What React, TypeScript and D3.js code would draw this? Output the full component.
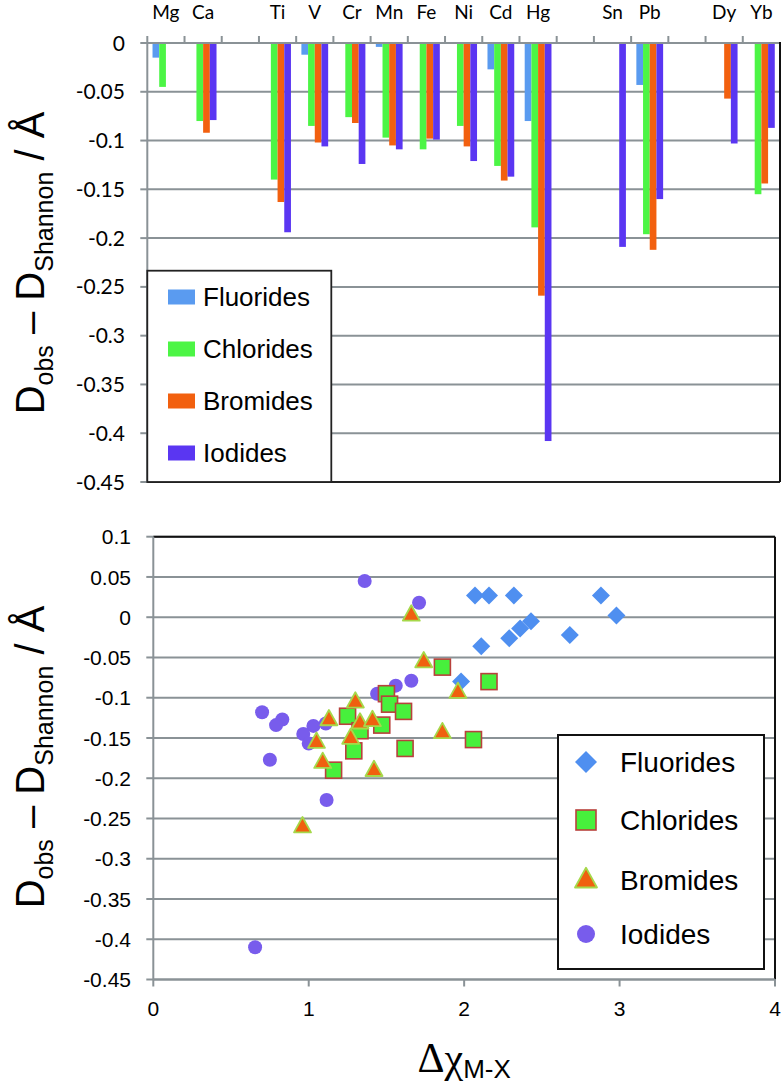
import React from "react";
import * as d3 from "d3";

// ---------- Top bar chart data ----------
const categories = ["Mg", "Ca", "", "Ti", "V", "Cr", "Mn", "Fe", "Ni", "Cd", "Hg", "", "Sn", "Pb", "", "Dy", "Yb"];
const seriesNames = ["Fluorides", "Chlorides", "Bromides", "Iodides"];
const fluorideBars = [-0.015, null, null, null, -0.012, null, -0.004, null, null, -0.027, -0.080, null, null, -0.043, null, null, null];
const chlorideBars = [-0.045, -0.080, null, -0.140, -0.085, -0.076, -0.097, -0.109, -0.085, -0.126, -0.189, null, null, -0.196, null, null, -0.155];
const bromideBars = [null, -0.092, null, -0.163, -0.102, -0.082, -0.105, -0.098, -0.106, -0.141, -0.259, null, null, -0.212, null, -0.057, -0.144];
const iodideBars = [null, -0.079, null, -0.194, -0.106, -0.124, -0.109, -0.099, -0.121, -0.137, -0.408, null, -0.209, -0.160, null, -0.103, -0.087];
const barYTicks = [0, -0.05, -0.1, -0.15, -0.2, -0.25, -0.3, -0.35, -0.4, -0.45];

// ---------- Bottom scatter data ----------
const scatterXTicks = [0, 1, 2, 3, 4];
const scatterYTicks = [0.1, 0.05, 0, -0.05, -0.1, -0.15, -0.2, -0.25, -0.3, -0.35, -0.4, -0.45];
const fluoridePts: [number, number][] = [
  [2.07, 0.027], [2.16, 0.027], [2.32, 0.027], [2.88, 0.027], [2.98, 0.002],
  [2.43, -0.005], [2.36, -0.014], [2.29, -0.026], [2.11, -0.036], [2.68, -0.022], [1.98, -0.080],
];
const chloridePts: [number, number][] = [
  [1.86, -0.062], [2.16, -0.080], [1.50, -0.095], [1.52, -0.108], [1.61, -0.117], [1.25, -0.123],
  [1.47, -0.134], [1.33, -0.141], [1.29, -0.166], [1.62, -0.163], [2.06, -0.152], [1.16, -0.190],
];
const bromidePts: [number, number][] = [
  [1.66, 0.003], [1.74, -0.055], [1.96, -0.093], [1.30, -0.105], [1.13, -0.127], [1.33, -0.131],
  [1.41, -0.128], [1.27, -0.150], [1.05, -0.155], [1.86, -0.143], [1.09, -0.180], [1.42, -0.190], [0.96, -0.260],
];
const iodidePts: [number, number][] = [
  [1.36, 0.045], [1.71, 0.018], [1.66, -0.079], [1.56, -0.085], [1.44, -0.095], [0.70, -0.118],
  [0.83, -0.127], [0.79, -0.134], [1.03, -0.135], [1.11, -0.132], [0.965, -0.145], [1.0, -0.157],
  [0.75, -0.177], [1.115, -0.227], [0.655, -0.410],
];

const barColors = ["#5a9bf0", "#4cf545", "#f2600f", "#5a36f2"];
const GRID = "#8a9296";
const SANS = "'Liberation Sans', Arial, sans-serif";
const CAL = "Lato, 'Liberation Sans', sans-serif";

const fmt = (v: number) => String(+v.toFixed(2));

function YTitle({ x, y }: { x: number; y: number }) {
  return (
    <text transform={`translate(${x},${y}) rotate(-90)`} textAnchor="middle" fontFamily={SANS} fontSize={40} fill="#000">
      D<tspan dy={9} fontSize={25}>obs</tspan>
      <tspan dy={-9}> – D</tspan>
      <tspan dy={9} fontSize={25}>Shannon</tspan>
      <tspan dy={-9}> / Å</tspan>
    </text>
  );
}

function Diamond({ x, y, r }: { x: number; y: number; r: number }) {
  return <path d={`M${x},${y - r}L${x + r},${y}L${x},${y + r}L${x - r},${y}Z`} fill="#4f8ff0" />;
}
function Square({ x, y, s }: { x: number; y: number; s: number }) {
  return <rect x={x - s / 2} y={y - s / 2} width={s} height={s} fill="#47f03c" stroke="#b8413c" strokeWidth={1.6} />;
}
function Tri({ x, y, s }: { x: number; y: number; s: number }) {
  const h = s * 0.9;
  return (
    <path d={`M${x},${y - h * 0.62}L${x + s / 2},${y + h * 0.38}L${x - s / 2},${y + h * 0.38}Z`}
      fill="#f0600f" stroke="#a6d84a" strokeWidth={1.8} strokeLinejoin="round" />
  );
}
function Dot({ x, y, r }: { x: number; y: number; r: number }) {
  return <circle cx={x} cy={y} r={r} fill="#785cec" />;
}

export default function App() {
  // top chart scales
  const tLeft = 147.3, tRight = 780, tTop = 43, tBottom = 482;
  const x0 = d3.scaleBand<string>().domain(categories.map((_, i) => String(i))).range([tLeft, tRight]).paddingInner(0).paddingOuter(0);
  const x1 = d3.scaleBand<string>().domain(seriesNames).range([0, x0.bandwidth()]).paddingInner(0).paddingOuter(0.78);
  const yb = d3.scaleLinear().domain([0, -0.45]).range([tTop, tBottom]);
  const barSeries = [fluorideBars, chlorideBars, bromideBars, iodideBars];

  // bottom chart scales
  const xs = d3.scaleLinear().domain([0, 4]).range([153.3, 775]);
  const ys = d3.scaleLinear().domain([-0.45, 0.1]).range([979.5, 536.7]);

  const boundaries = d3.range(categories.length + 1).map((i) => tLeft + i * x0.step());
  const legendY = [297, 349, 401, 453];

  return (
    <svg width={784} height={1083} style={{ position: "absolute", left: 0, top: 0, background: "#fff" }}>
      <rect width={784} height={1083} fill="#fff" />
      {/* ===== TOP BAR CHART ===== */}
      {barYTicks.slice(1, -1).map((v) => (
        <line key={"g" + v} x1={tLeft} x2={tRight} y1={yb(v)} y2={yb(v)} stroke={GRID} strokeWidth={2} />
      ))}
      <line x1={tLeft} x2={tRight} y1={yb(-0.45)} y2={yb(-0.45)} stroke="#222" strokeWidth={1.8} />
      {barSeries.map((vals, si) =>
        vals.map((v, ci) =>
          v == null ? null : (
            <rect key={si + "-" + ci} x={(x0(String(ci)) as number) + (x1(seriesNames[si]) as number)} y={yb(0)}
              width={x1.bandwidth()} height={yb(v) - yb(0)} fill={barColors[si]} />
          )
        )
      )}
      {/* y axis */}
      <line x1={tLeft} x2={tLeft} y1={tTop} y2={tBottom} stroke={GRID} strokeWidth={2} />
      {barYTicks.map((v) => (
        <g key={"t" + v}>
          <line x1={tLeft - 7} x2={tLeft} y1={yb(v)} y2={yb(v)} stroke={GRID} strokeWidth={2} />
          <text x={125} y={yb(v)} dy="0.36em" textAnchor="end" fontFamily={CAL} fontSize={21} fill="#000">{fmt(v)}</text>
        </g>
      ))}
      {/* top category axis */}
      <line x1={tLeft} x2={tRight} y1={tTop} y2={tTop} stroke={GRID} strokeWidth={2} />
      {boundaries.slice(0, -1).map((bx, i) => (
        <line key={"ct" + i} x1={bx} x2={bx} y1={tTop - 7} y2={tTop} stroke={GRID} strokeWidth={2} />
      ))}
      {categories.map((c, i) => (
        <text key={"cl" + i} x={(x0(String(i)) as number) + x0.bandwidth() / 2} y={19} textAnchor="middle" fontFamily={CAL} fontSize={19} fill="#000">{c}</text>
      ))}
      <line x1={tRight} x2={tRight} y1={tTop - 1} y2={tBottom} stroke="#111" strokeWidth={2} />
      {/* top legend */}
      <rect x={147.3} y={270.7} width={184} height={tBottom - 270.7} fill="#fff" stroke="#222" strokeWidth={1.8} />
      {seriesNames.map((s, i) => (
        <g key={"lg" + s}>
          <rect x={168} y={legendY[i] - 7.5} width={27} height={15} fill={barColors[i]} />
          <text x={203} y={legendY[i]} dy="0.36em" fontFamily={SANS} fontSize={26} fill="#000">{s}</text>
        </g>
      ))}
      <YTitle x={44} y={263} />

      {/* ===== BOTTOM SCATTER ===== */}
      {scatterYTicks.map((v) => (
        <line key={"sg" + v} x1={xs(0)} x2={xs(4)} y1={ys(v)} y2={ys(v)} stroke={GRID} strokeWidth={2} />
      ))}
      {/* border top/right */}
      <line x1={xs(0)} x2={xs(4)} y1={ys(0.1)} y2={ys(0.1)} stroke="#111" strokeWidth={2} />
      <line x1={xs(4)} x2={xs(4)} y1={ys(0.1)} y2={ys(-0.45)} stroke="#111" strokeWidth={2} />
      {/* axes */}
      <line x1={xs(0)} x2={xs(0)} y1={ys(0.1)} y2={ys(-0.45)} stroke={GRID} strokeWidth={2} />
      <line x1={xs(0)} x2={xs(4)} y1={ys(-0.45)} y2={ys(-0.45)} stroke={GRID} strokeWidth={2} />
      {scatterYTicks.map((v) => (
        <g key={"st" + v}>
          <line x1={xs(0) - 7} x2={xs(0)} y1={ys(v)} y2={ys(v)} stroke={GRID} strokeWidth={2} />
          <text x={131} y={ys(v)} dy="0.36em" textAnchor="end" fontFamily={SANS} fontSize={21} fill="#000">{fmt(v)}</text>
        </g>
      ))}
      {scatterXTicks.map((v) => (
        <g key={"sx" + v}>
          <line x1={xs(v)} x2={xs(v)} y1={ys(-0.45)} y2={ys(-0.45) + 7} stroke={GRID} strokeWidth={2} />
          <text x={xs(v)} y={1008} dy="0.36em" textAnchor="middle" fontFamily={SANS} fontSize={21} fill="#000">{v}</text>
        </g>
      ))}
      {iodidePts.map(([x, y], i) => <Dot key={"i" + i} x={xs(x)} y={ys(y)} r={7} />)}
      {fluoridePts.map(([x, y], i) => <Diamond key={"f" + i} x={xs(x)} y={ys(y)} r={9} />)}
      {chloridePts.map(([x, y], i) => <Square key={"c" + i} x={xs(x)} y={ys(y)} s={16} />)}
      {bromidePts.map(([x, y], i) => <Tri key={"b" + i} x={xs(x)} y={ys(y)} s={17} />)}

      {/* scatter legend */}
      <rect x={558} y={735} width={206} height={234} fill="#fff" stroke="#111" strokeWidth={2} />
      <Diamond x={586} y={762} r={11} />
      <Square x={586} y={820} s={20} />
      <Tri x={586} y={880} s={22} />
      <Dot x={586} y={934} r={9} />
      {seriesNames.map((s, i) => (
        <text key={"sl" + s} x={620} y={[762, 820, 880, 934][i]} dy="0.36em" fontFamily={SANS} fontSize={28} fill="#000">{s}</text>
      ))}
      <YTitle x={44} y={757} />
      <text x={xs(2)} y={1072} textAnchor="middle" fill="#000">
        <tspan fontFamily="'Liberation Serif', 'DejaVu Serif', serif" fontSize={42}>Δχ</tspan>
        <tspan fontFamily={SANS} fontSize={26} dy={6}>M-X</tspan>
      </text>
    </svg>
  );
}
